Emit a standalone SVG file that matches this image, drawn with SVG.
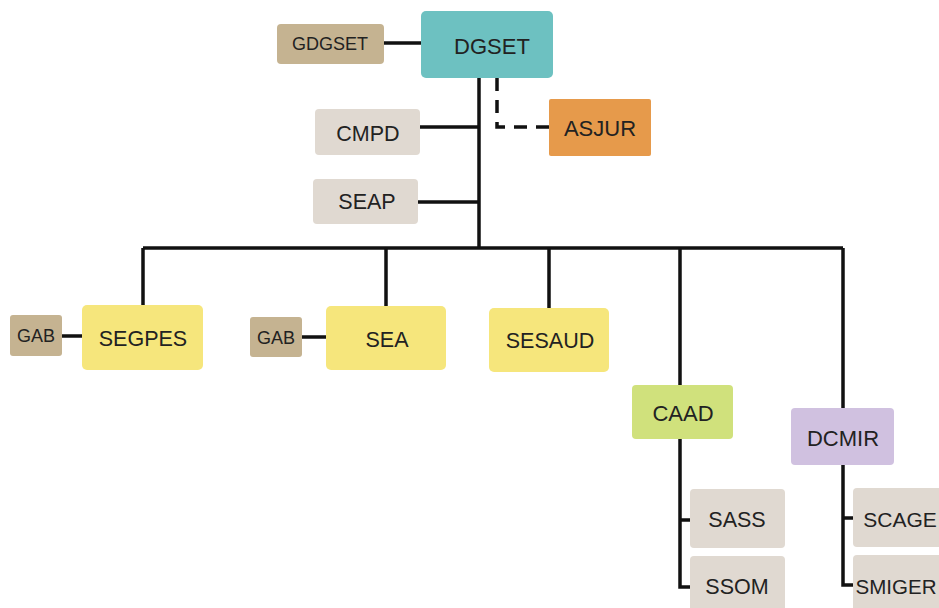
<svg xmlns="http://www.w3.org/2000/svg" width="939" height="608" viewBox="0 0 939 608">
<style>
.n{stroke:none}
.t{font-family:"Liberation Sans",Arial,sans-serif;fill:#222;text-anchor:middle;dominant-baseline:central}
.l{stroke:#111;stroke-width:3.5;fill:none}
.d{stroke:#111;stroke-width:3.5;fill:none;stroke-dasharray:13,9}
.tan{fill:#c5b391}
.grey{fill:#e0d9d1}
.yel{fill:#f6e67c}
</style>
<rect width="939" height="608" fill="#fff"/>
<g id="connectors">
<path class="l" d="M384 43H421"/>
<path class="l" d="M479 78V248"/>
<path class="l" d="M420 127H479"/>
<path class="l" d="M418 202H479"/>
<path class="d" d="M497 78V127H549"/>
<path class="l" d="M143 248H843"/>
<path class="l" d="M143 248V305M386 248V306M549 248V308M680 248V385M843 248V408"/>
<path class="l" d="M62 336H82M302 337H326"/>
<path class="l" d="M680 439V587H690M680 520H690"/>
<path class="l" d="M843 465V585H853M843 518H853"/>
</g>
<g id="DGSET"><rect x="421" y="11" width="132" height="67" rx="5" fill="#6dc1c1"/><text class="t" x="492" y="46" font-size="22">DGSET</text></g>
<g id="GDGSET"><rect class="tan" x="277" y="24" width="107" height="40" rx="4"/><text class="t" x="330" y="44" font-size="18">GDGSET</text></g>
<g id="CMPD"><rect class="grey" x="315" y="109" width="105" height="46" rx="4"/><text class="t" x="368" y="134" font-size="21.5">CMPD</text></g>
<g id="ASJUR"><rect x="549" y="99" width="102" height="57" rx="2" fill="#e69a4b"/><text class="t" x="600" y="128" font-size="22">ASJUR</text></g>
<g id="SEAP"><rect class="grey" x="313" y="179" width="105" height="45" rx="4"/><text class="t" x="367" y="202" font-size="21.5">SEAP</text></g>
<g id="GAB1"><rect class="tan" x="10" y="315" width="52" height="41" rx="3"/><text class="t" x="36" y="336" font-size="18">GAB</text></g>
<g id="SEGPES"><rect class="yel" x="82" y="305" width="121" height="65" rx="5"/><text class="t" x="143" y="339" font-size="21.5">SEGPES</text></g>
<g id="GAB2"><rect class="tan" x="250" y="317" width="52" height="40" rx="3"/><text class="t" x="276" y="338" font-size="18">GAB</text></g>
<g id="SEA"><rect class="yel" x="326" y="306" width="120" height="64" rx="5"/><text class="t" x="387" y="340" font-size="21.5">SEA</text></g>
<g id="SESAUD"><rect class="yel" x="489" y="308" width="120" height="64" rx="5"/><text class="t" x="550" y="341" font-size="21.5">SESAUD</text></g>
<g id="CAAD"><rect x="632" y="385" width="101" height="54" rx="4" fill="#d0e17c"/><text class="t" x="683" y="413" font-size="22">CAAD</text></g>
<g id="DCMIR"><rect x="791" y="408" width="103" height="57" rx="4" fill="#d0c1e0"/><text class="t" x="843" y="438" font-size="22">DCMIR</text></g>
<g id="SASS"><rect class="grey" x="690" y="489" width="95" height="59" rx="4"/><text class="t" x="737" y="520" font-size="21.5">SASS</text></g>
<g id="SSOM"><rect class="grey" x="690" y="556" width="95" height="60" rx="4"/><text class="t" x="737" y="587" font-size="21.5">SSOM</text></g>
<g id="SCAGE"><rect class="grey" x="853" y="488" width="95" height="59" rx="4"/><text class="t" x="900" y="519" font-size="21">SCAGE</text></g>
<g id="SMIGER"><rect class="grey" x="853" y="555" width="95" height="60" rx="4"/><text class="t" x="896" y="586" font-size="20.5">SMIGER</text></g>
</svg>
